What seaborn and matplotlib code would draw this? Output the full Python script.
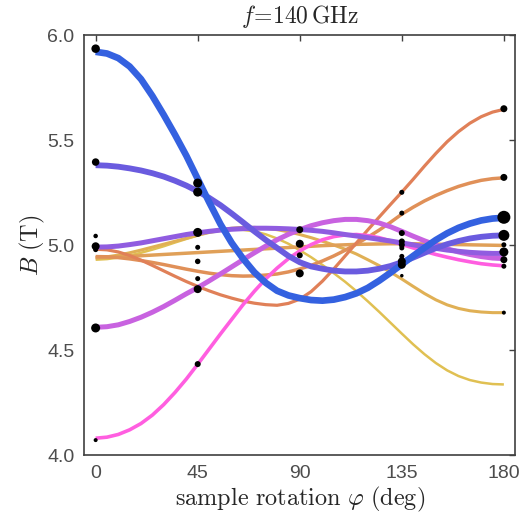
import numpy as np
import pandas as pd
import matplotlib
matplotlib.use("Agg")
import matplotlib.pyplot as plt
import seaborn as sns

# rotation angles (deg) at which the curves were read
phi = list(range(0, 181, 5))

# simulated resonance fields (T) for each transition, read every 5 deg
B_blue = [5.920, 5.912, 5.890, 5.850, 5.790, 5.710, 5.620, 5.525, 5.425, 5.315, 5.205, 5.100, 5.010,
          4.935, 4.870, 4.820, 4.782, 4.760, 4.747, 4.738, 4.735, 4.740, 4.752, 4.770, 4.796, 4.830,
          4.868, 4.908, 4.948, 4.987, 5.024, 5.056, 5.082, 5.102, 5.117, 5.126, 5.130]
B_violet = [5.380, 5.378, 5.373, 5.365, 5.355, 5.342, 5.326, 5.306, 5.283, 5.256, 5.225, 5.190, 5.150,
            5.108, 5.065, 5.024, 4.986, 4.948, 4.918, 4.898, 4.887, 4.878, 4.874, 4.874, 4.878, 4.887,
            4.900, 4.918, 4.940, 4.963, 4.985, 5.004, 5.019, 5.031, 5.039, 5.044, 5.046]
B_purple = [4.990, 4.991, 4.995, 5.002, 5.010, 5.020, 5.030, 5.040, 5.050, 5.058, 5.065, 5.071, 5.075,
            5.078, 5.080, 5.080, 5.079, 5.077, 5.074, 5.070, 5.065, 5.058, 5.050, 5.043, 5.035, 5.027,
            5.019, 5.010, 5.001, 4.992, 4.984, 4.976, 4.970, 4.965, 4.962, 4.960, 4.960]
B_magenta = [4.608, 4.611, 4.620, 4.636, 4.656, 4.680, 4.707, 4.737, 4.768, 4.797, 4.829, 4.862, 4.896,
             4.930, 4.963, 4.995, 5.025, 5.051, 5.073, 5.092, 5.106, 5.116, 5.122, 5.122, 5.116, 5.105,
             5.087, 5.065, 5.042, 5.020, 5.000, 4.982, 4.967, 4.955, 4.945, 4.938, 4.935]
B_pink = [4.080, 4.085, 4.098, 4.120, 4.150, 4.190, 4.240, 4.298, 4.362, 4.432, 4.504, 4.576, 4.646,
          4.716, 4.780, 4.839, 4.890, 4.935, 4.972, 5.002, 5.025, 5.040, 5.048, 5.050, 5.045, 5.035,
          5.020, 5.003, 4.986, 4.970, 4.955, 4.942, 4.930, 4.920, 4.911, 4.905, 4.901]
B_orange = [4.980, 4.977, 4.967, 4.950, 4.928, 4.903, 4.877, 4.851, 4.826, 4.803, 4.782, 4.763, 4.747,
            4.733, 4.723, 4.716, 4.713, 4.722, 4.742, 4.778, 4.828, 4.886, 4.948, 5.010, 5.072, 5.133,
            5.193, 5.252, 5.313, 5.376, 5.436, 5.492, 5.540, 5.580, 5.611, 5.633, 5.646]
B_orange2 = [4.945, 4.944, 4.940, 4.934, 4.926, 4.917, 4.907, 4.896, 4.885, 4.875, 4.866, 4.859, 4.854,
             4.852, 4.853, 4.857, 4.862, 4.872, 4.886, 4.903, 4.924, 4.948, 4.975, 5.005, 5.037, 5.071,
             5.108, 5.147, 5.180, 5.210, 5.236, 5.259, 5.279, 5.295, 5.308, 5.316, 5.320]
B_amber = [4.940, 4.941, 4.943, 4.946, 4.949, 4.952, 4.955, 4.958, 4.961, 4.964, 4.967, 4.970, 4.973,
           4.976, 4.979, 4.982, 4.985, 4.988, 4.991, 4.994, 4.997, 4.999, 5.001, 5.003, 5.004, 5.005,
           5.006, 5.006, 5.006, 5.005, 5.004, 5.003, 5.002, 5.001, 5.000, 4.999, 4.998]
B_gold = [4.940, 4.944, 4.952, 4.963, 4.976, 4.990, 5.004, 5.018, 5.032, 5.047, 5.062, 5.073, 5.080,
          5.084, 5.084, 5.080, 5.073, 5.063, 5.050, 5.035, 5.018, 5.000, 4.980, 4.957, 4.930, 4.902,
          4.871, 4.838, 4.803, 4.769, 4.739, 4.715, 4.698, 4.687, 4.681, 4.678, 4.678]
B_yellow = [4.930, 4.933, 4.940, 4.950, 4.963, 4.978, 4.994, 5.012, 5.029, 5.045, 5.058, 5.068, 5.073,
            5.072, 5.065, 5.051, 5.031, 5.006, 4.975, 4.942, 4.905, 4.866, 4.825, 4.780, 4.732, 4.682,
            4.630, 4.578, 4.527, 4.480, 4.438, 4.403, 4.376, 4.357, 4.345, 4.338, 4.336]

curve_names = ["yellow", "gold", "amber", "orange2", "orange", "pink", "magenta", "purple", "violet", "blue"]
curve_vals = [B_yellow, B_gold, B_amber, B_orange2, B_orange, B_pink, B_magenta, B_purple, B_violet, B_blue]
curve_colors = ["#e0c052", "#e0b055", "#e0a058", "#e09058", "#e08058", "#ff5ee0", "#c862e0", "#905ce0", "#6a5bdf", "#3461e0"]
curve_widths = [1.8, 2.2, 2.5, 2.5, 2.3, 2.6, 3.6, 3.6, 4.2, 4.8]

# measured line positions (deg, T) and relative intensity (marker diameter, px)
pt_phi = [0, 0, 0, 0, 0, 0, 0,
          45, 45, 45, 45, 45, 45, 45, 45,
          90, 90, 90, 90,
          135, 135, 135, 135, 135, 135, 135, 135, 135, 135,
          180, 180, 180, 180, 180, 180, 180, 180, 180]
pt_B = [5.935, 5.395, 5.043, 4.994, 4.978, 4.605, 4.071,
        5.295, 5.252, 5.06, 4.989, 4.922, 4.84, 4.79, 4.433,
        5.073, 5.006, 4.951, 4.865,
        5.251, 5.152, 5.057, 5.017, 5.001, 4.986, 4.946, 4.922, 4.906, 4.854,
        5.649, 5.322, 5.132, 5.046, 5.001, 4.967, 4.93, 4.899, 4.678]
pt_size = [8.5, 7.5, 4.5, 8, 5, 9, 4,
           9, 9, 9, 5, 5.5, 5, 8, 6,
           7, 8, 6, 8,
           5, 5, 6, 6, 6, 5, 5, 8, 8, 3.5,
           7, 7, 13, 11, 5, 9, 7, 5, 4]

xticks = [0, 45, 90, 135, 180]
yticks = [4.0, 4.5, 5.0, 5.5, 6.0]
ytick_labels = ["4.0", "4.5", "5.0", "5.5", "6.0"]

sns.set_style("white")
plt.rcParams["font.family"] = ["Liberation Sans", "DejaVu Sans"]
plt.rcParams["mathtext.fontset"] = "cm"

df = pd.DataFrame({
    "phi": np.tile(phi, len(curve_names)),
    "B": np.concatenate(curve_vals),
    "curve": np.repeat(curve_names, len(phi)),
})
px2pt = 72.0 / 100.0
pts = pd.DataFrame({"phi": pt_phi, "B": pt_B})
pts["area"] = (np.array(pt_size) * px2pt) ** 2

fig = plt.figure(figsize=(5.22, 5.25), dpi=100)
ax = fig.add_axes([0.1615, 0.1333, 0.8255, 0.80])

sns.lineplot(data=df, x="phi", y="B", hue="curve", size="curve",
             hue_order=curve_names, size_order=curve_names,
             palette=dict(zip(curve_names, curve_colors)),
             sizes=dict(zip(curve_names, curve_widths)),
             sort=False, estimator=None, legend=False, ax=ax,
             solid_capstyle="butt", solid_joinstyle="round")

amin, amax = pts["area"].min(), pts["area"].max()
sns.scatterplot(data=pts, x="phi", y="B", size="area",
                sizes=(amin, amax), size_norm=(amin, amax),
                color="black", edgecolor="none", linewidth=0, legend=False, ax=ax, zorder=5)

ax.set_xlim(-5, 185)
ax.set_ylim(4.0, 6.0)
ax.set_xticks(xticks)
ax.set_xticklabels([str(t) for t in xticks])
ax.set_yticks(yticks)
ax.set_yticklabels(ytick_labels)

gray = "#404040"
for s in ax.spines.values():
    s.set_visible(True)
    s.set_color(gray)
    s.set_linewidth(1.2)
ax.tick_params(direction="in", length=4, width=1.0, colors=gray, labelcolor="#4d4d4d",
               labelsize=14, top=True, right=True, pad=7)

ax.set_xlabel(r"$\mathrm{sample\ rotation}\ \varphi\ \mathrm{(deg)}$", fontsize=17.5, color="#262626", labelpad=2)
ax.set_ylabel(r"$B\ \mathrm{(T)}$", fontsize=17.5, color="#262626", labelpad=0)
ax.set_title(r"$f\!=\!140\,\mathrm{GHz}$", fontsize=17, color="#262626", pad=9)

fig.savefig("out.png", dpi=100)
